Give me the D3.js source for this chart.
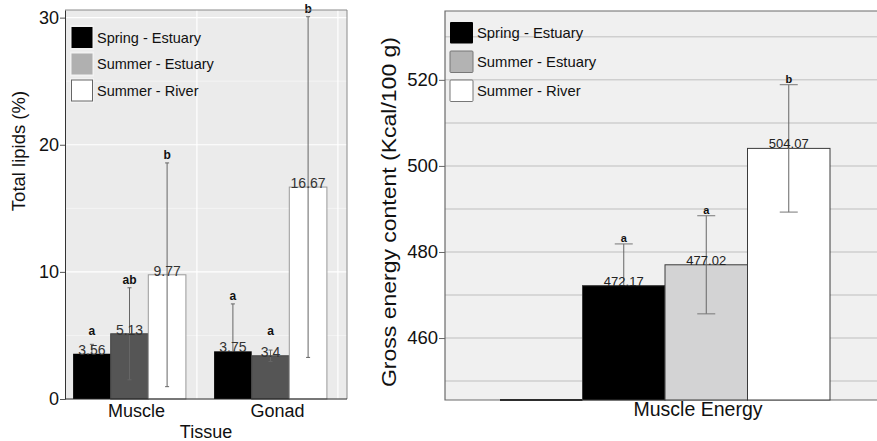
<!DOCTYPE html>
<html>
<head>
<meta charset="utf-8">
<script src="https://cdn.jsdelivr.net/npm/d3@7"></script>
<style>
  body { margin: 0; background: #fff; }
  svg text { font-family: "Liberation Sans", Arial, sans-serif; }
</style>
</head>
<body>
<div id="chart"></div>
<script>
// ---- data ----
var tissues = ["Muscle", "Gonad"];
var groups = ["Spring - Estuary", "Summer - Estuary", "Summer - River"];

// total lipids (%) per tissue
var lipidSpringEstuary = [3.56, 3.75];
var lipidSummerEstuary = [5.13, 3.40];
var lipidSummerRiver   = [9.77, 16.67];
var lipidSdSpringEstuary = [0.74, 3.73];
var lipidSdSummerEstuary = [3.62, 0.45];
var lipidSdSummerRiver   = [8.80, 13.40];
var lipidLetters = [["a", "a"], ["ab", "a"], ["b", "b"]];
var lipidTicks = [0, 10, 20, 30];

// gross energy (Kcal/100 g), muscle
var energyCategory = "Muscle Energy";
var energyMeans = [472.17, 477.02, 504.07];
var energySd = [9.7, 11.4, 14.8];
var energyLetters = ["a", "a", "b"];
var energyTicks = [460, 480, 500, 520];

(function () {
  var width = 877, height = 441;

  var svg = d3.select("#chart").append("svg")
      .attr("width", width)
      .attr("height", height);

  // ------------------------------------------------------------
  // Left panel: total lipids
  // ------------------------------------------------------------
  var L = { left: 65, right: 347, top: 10, bottom: 399 };
  var lipidMeans = [lipidSpringEstuary, lipidSummerEstuary, lipidSummerRiver];
  var lipidSds = [lipidSdSpringEstuary, lipidSdSummerEstuary, lipidSdSummerRiver];
  var barFillL = ["#000000", "#555555", "#ffffff"];
  var barStrokeL = ["none", "#444444", "#9a9a9a"];

  var yL = d3.scaleLinear().domain([0, 30.6]).range([L.bottom, L.top]);
  var x0L = d3.scaleBand().domain(tissues).range([59, 341])
      .paddingInner(0.2).paddingOuter(0.1);
  var x1L = d3.scaleBand().domain(d3.range(groups.length))
      .range([0, x0L.bandwidth()]);

  var gL = svg.append("g");

  gL.append("rect")
    .attr("x", L.left).attr("y", L.top)
    .attr("width", L.right - L.left).attr("height", L.bottom - L.top)
    .attr("fill", "#ebebeb");

  // minor + major grid
  d3.range(5, 30, 10).forEach(function (v) {
    gL.append("line")
      .attr("x1", L.left).attr("x2", L.right)
      .attr("y1", yL(v)).attr("y2", yL(v))
      .attr("stroke", "#f6f6f6").attr("stroke-width", 0.8);
  });
  lipidTicks.forEach(function (v) {
    gL.append("line")
      .attr("x1", L.left).attr("x2", L.right)
      .attr("y1", yL(v)).attr("y2", yL(v))
      .attr("stroke", "#ffffff").attr("stroke-width", 1.2);
  });
  tissues.forEach(function (t) {
    var gx = x0L(t) + x0L.bandwidth() + 11;
    gL.append("line")
      .attr("x1", gx).attr("x2", gx)
      .attr("y1", L.top).attr("y2", L.bottom)
      .attr("stroke", "#ffffff").attr("stroke-width", 1.2);
  });

  // bars
  groups.forEach(function (grp, gi) {
    tissues.forEach(function (t, ti) {
      var v = lipidMeans[gi][ti];
      gL.append("rect")
        .attr("x", x0L(t) + x1L(gi))
        .attr("y", yL(v))
        .attr("width", x1L.bandwidth())
        .attr("height", yL(0) - yL(v))
        .attr("fill", barFillL[gi])
        .attr("stroke", barStrokeL[gi])
        .attr("stroke-width", 1);
    });
  });

  // error bars, value labels, letters
  groups.forEach(function (grp, gi) {
    tissues.forEach(function (t, ti) {
      var v = lipidMeans[gi][ti], sd = lipidSds[gi][ti];
      var cx = x0L(t) + x1L(gi) + x1L.bandwidth() / 2;
      var hi = v + sd, lo = Math.max(v - sd, 0);
      // the lower whisker vanishes inside the black bars
      var ends = gi === 0 ? [hi] : [hi, lo];
      gL.append("line")
        .attr("x1", cx).attr("x2", cx)
        .attr("y1", yL(hi)).attr("y2", yL(gi === 0 ? v : lo))
        .attr("stroke", "#666").attr("stroke-width", 1);
      ends.forEach(function (e) {
        gL.append("line")
          .attr("x1", cx - 2).attr("x2", cx + 2)
          .attr("y1", yL(e)).attr("y2", yL(e))
          .attr("stroke", "#666").attr("stroke-width", 1);
      });
      gL.append("text")
        .attr("x", cx).attr("y", yL(v) + 1)
        .attr("text-anchor", "middle")
        .attr("font-size", 14).attr("fill", "#333")
        .text(String(v));
      gL.append("text")
        .attr("x", cx).attr("y", yL(Math.max(hi, 4.7) + 0.3))
        .attr("text-anchor", "middle")
        .attr("font-size", 12).attr("font-weight", "bold").attr("fill", "#111")
        .text(lipidLetters[gi][ti]);
    });
  });

  // border + axes
  gL.append("path")
    .attr("d", "M" + L.left + "," + L.top + "H" + L.right + "V" + L.bottom)
    .attr("fill", "none").attr("stroke", "#8a8a8a").attr("stroke-width", 1);

  var axL = gL.append("g")
    .attr("transform", "translate(" + L.left + ",0)")
    .call(d3.axisLeft(yL).tickValues(lipidTicks).tickSize(5).tickPadding(1).tickSizeOuter(0));
  axL.select(".domain").attr("stroke", "#333");
  axL.selectAll(".tick line").attr("stroke", "#555");
  axL.selectAll("text").attr("font-size", 18).attr("fill", "#111")
    .style("font-family", "Liberation Sans, Arial, sans-serif");

  gL.append("line")
    .attr("x1", L.left).attr("x2", L.right)
    .attr("y1", L.bottom).attr("y2", L.bottom)
    .attr("stroke", "#222").attr("stroke-width", 1.2);

  tissues.forEach(function (t) {
    gL.append("text")
      .attr("x", x0L(t) + x0L.bandwidth() / 2 + 7)
      .attr("y", 417)
      .attr("text-anchor", "middle")
      .attr("font-size", 18).attr("fill", "#111")
      .text(t);
  });

  gL.append("text")
    .attr("x", (L.left + L.right) / 2).attr("y", 438)
    .attr("text-anchor", "middle")
    .attr("font-size", 18).attr("fill", "#111")
    .text("Tissue");

  gL.append("text")
    .attr("transform", "translate(25,151) rotate(-90)")
    .attr("text-anchor", "middle")
    .attr("font-size", 18.5).attr("fill", "#111")
    .text("Total lipids (%)");

  // legend
  var legFillL = ["#000000", "#b0b0b0", "#ffffff"];
  groups.forEach(function (grp, gi) {
    var ky = 27 + gi * 26.5;
    gL.append("rect")
      .attr("x", 70).attr("y", ky - 2).attr("width", 24).attr("height", 25)
      .attr("fill", "#f2f2f2");
    gL.append("rect")
      .attr("x", 71.5).attr("y", ky).attr("width", 21).attr("height", 21)
      .attr("fill", legFillL[gi])
      .attr("stroke", gi === 2 ? "#666" : "none");
    gL.append("text")
      .attr("x", 97).attr("y", ky + 15.5)
      .attr("font-size", 14.5).attr("fill", "#111")
      .text(grp);
  });

  // ------------------------------------------------------------
  // Right panel: gross energy
  // ------------------------------------------------------------
  var R = { left: 445, right: 877, top: 11, bottom: 400 };
  var barFillR = ["#000000", "#d3d3d4", "#ffffff"];

  var yR = d3.scaleLinear().domain([445.6, 536]).range([R.bottom, R.top]);
  // four dodge slots, the first one is empty
  var xR = d3.scaleBand().domain(d3.range(groups.length + 1)).range([500, 830]);

  var gR = svg.append("g");

  gR.append("rect")
    .attr("x", R.left).attr("y", R.top)
    .attr("width", R.right - R.left).attr("height", R.bottom - R.top)
    .attr("fill", "#f0f0f0");

  d3.range(450, 536, 10).forEach(function (v) {
    gR.append("line")
      .attr("x1", R.left).attr("x2", R.right)
      .attr("y1", yR(v)).attr("y2", yR(v))
      .attr("stroke", "#cfcfcf").attr("stroke-width", 1.5);
  });

  gR.append("path")
    .attr("d", "M" + R.right + "," + R.top + "H" + R.left + "V" + R.bottom + "H" + R.right)
    .attr("fill", "none").attr("stroke", "#6a6a6a").attr("stroke-width", 1.2);

  // empty slot, drawn flat on the baseline
  gR.append("line")
    .attr("x1", xR(0)).attr("x2", xR(0) + xR.bandwidth())
    .attr("y1", R.bottom).attr("y2", R.bottom)
    .attr("stroke", "#000").attr("stroke-width", 1.5);

  energyMeans.forEach(function (v, i) {
    gR.append("rect")
      .attr("x", xR(i + 1)).attr("y", yR(v))
      .attr("width", xR.bandwidth())
      .attr("height", R.bottom - yR(v))
      .attr("fill", barFillR[i])
      .attr("stroke", "#3a3a3a").attr("stroke-width", 1);
  });

  energyMeans.forEach(function (v, i) {
    var cx = xR(i + 1) + xR.bandwidth() / 2;
    var hi = v + energySd[i], lo = v - energySd[i];
    var ends = i === 0 ? [hi] : [hi, lo];
    gR.append("line")
      .attr("x1", cx).attr("x2", cx)
      .attr("y1", yR(hi)).attr("y2", yR(i === 0 ? v : lo))
      .attr("stroke", "#666").attr("stroke-width", 1);
    ends.forEach(function (e) {
      gR.append("line")
        .attr("x1", cx - 9).attr("x2", cx + 9)
        .attr("y1", yR(e)).attr("y2", yR(e))
        .attr("stroke", "#777").attr("stroke-width", 1);
    });
    gR.append("text")
      .attr("x", cx).attr("y", yR(v))
      .attr("text-anchor", "middle")
      .attr("font-size", 13).attr("fill", "#222")
      .text(v.toFixed(2));
    gR.append("text")
      .attr("x", cx).attr("y", yR(hi) - 2)
      .attr("text-anchor", "middle")
      .attr("font-size", 11).attr("font-weight", "bold").attr("fill", "#111")
      .text(energyLetters[i]);
  });

  var axR = gR.append("g")
    .attr("transform", "translate(" + R.left + ",0)")
    .call(d3.axisLeft(yR).tickValues(energyTicks).tickSize(6).tickPadding(1).tickSizeOuter(0));
  axR.select(".domain").remove();
  axR.selectAll(".tick line").attr("stroke", "#666");
  axR.selectAll("text").attr("font-size", 18.5).attr("fill", "#111")
    .style("font-family", "Liberation Sans, Arial, sans-serif");

  gR.append("text")
    .attr("x", 698).attr("y", 416)
    .attr("text-anchor", "middle")
    .attr("font-size", 19.5).attr("fill", "#111")
    .text(energyCategory);

  gR.append("text")
    .attr("transform", "translate(396,212) rotate(-90)")
    .attr("text-anchor", "middle")
    .attr("font-size", 19.5).attr("fill", "#111")
    .attr("textLength", 350).attr("lengthAdjust", "spacingAndGlyphs")
    .text("Gross energy content (Kcal/100 g)");

  var legFillR = ["#000000", "#b3b3b3", "#ffffff"];
  groups.forEach(function (grp, gi) {
    var ky = 22 + gi * 29;
    gR.append("rect")
      .attr("x", 450).attr("y", ky).attr("width", 23).attr("height", 21.5)
      .attr("fill", legFillR[gi])
      .attr("stroke", gi === 0 ? "none" : "#777")
      .attr("rx", 1);
    gR.append("text")
      .attr("x", 477).attr("y", ky + 15.5)
      .attr("font-size", 14.8).attr("fill", "#111")
      .text(grp);
  });
})();
</script>
</body>
</html>
